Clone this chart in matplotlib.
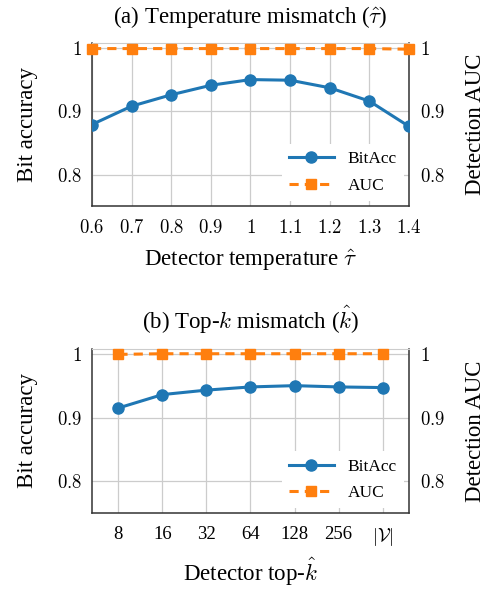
import numpy as np
import matplotlib
matplotlib.use('Agg')
import matplotlib.pyplot as plt

plt.rcParams['font.family'] = ['Liberation Serif', 'DejaVu Serif']
plt.rcParams['mathtext.fontset'] = 'cm'

# (a) temperature mismatch
temps = [0.6, 0.7, 0.8, 0.9, 1.0, 1.1, 1.2, 1.3, 1.4]
temp_labels = ['0.6', '0.7', '0.8', '0.9', '1', '1.1', '1.2', '1.3', '1.4']
temp_bitacc = [0.879, 0.908, 0.926, 0.941, 0.950, 0.949, 0.937, 0.916, 0.876]
temp_auc = [0.999, 0.999, 0.999, 0.999, 0.999, 0.999, 0.999, 0.999, 0.998]

# (b) top-k mismatch
topk_labels = ['8', '16', '32', '64', '128', '256', r'$|\mathcal{V}|$']
topk_bitacc = [0.915, 0.936, 0.943, 0.948, 0.950, 0.948, 0.947]
topk_auc = [0.999, 1.0, 1.0, 1.0, 1.0, 1.0, 1.0]

yticks = [0.8, 0.9, 1.0]
ytick_labels = ['$0.8$', '$0.9$', '$1$']

blue = '#1f77b4'
orange = '#ff7f0e'
FS_TICK = 13.5
FS_LAB = 16.5

fig = plt.figure(figsize=(4.88, 5.89), dpi=100)
ax1 = fig.add_axes([0.1885, 0.650, 0.6496, 0.2772])
ax2 = fig.add_axes([0.1885, 0.1285, 0.6496, 0.2796])


def draw(ax, x, bitacc, auc, xlim, xticks, xlabels, xlabel, title, xpad):
    ax.plot(x, bitacc, color=blue, lw=2.2, marker='o', ms=8, label='BitAcc', zorder=3)
    ax.plot(x, auc, color=orange, lw=2.2, ls=(0, (3, 2)), marker='s', ms=7,
            label='AUC', zorder=4, clip_on=False)
    ax.set_xlim(*xlim)
    ax.set_ylim(0.75, 1.008)
    ax.set_xticks(xticks)
    ax.set_xticklabels(xlabels, fontsize=FS_TICK)
    ax.set_yticks(yticks)
    ax.set_yticklabels(ytick_labels, fontsize=FS_TICK)
    ax.grid(True, color='#cccccc', lw=0.9)
    ax.set_axisbelow(True)
    ax.tick_params(axis='x', length=0, pad=9)
    ax.tick_params(axis='y', length=0, pad=7)
    for s in ['left', 'right', 'bottom']:
        ax.spines[s].set_color('#333333')
        ax.spines[s].set_linewidth(1.1)
    ax.spines['top'].set_color('#cccccc')
    ax.set_ylabel('Bit accuracy', fontsize=FS_LAB, labelpad=14)
    ax.set_xlabel(xlabel, fontsize=FS_LAB, labelpad=xpad)
    ax.set_title(title, fontsize=FS_LAB, pad=14)
    tw = ax.twinx()
    tw.set_ylim(ax.get_ylim())
    tw.set_yticks(yticks)
    tw.set_yticklabels(ytick_labels, fontsize=FS_TICK)
    tw.tick_params(length=0, pad=8)
    for s in tw.spines.values():
        s.set_visible(False)
    tw.set_ylabel('Detection AUC', fontsize=FS_LAB, labelpad=14)
    leg = ax.legend(loc='lower right', frameon=True, fontsize=12.5, handlelength=2.6,
                    borderaxespad=0.3, labelspacing=0.6)
    leg.get_frame().set_edgecolor('none')
    leg.get_frame().set_alpha(1)


draw(ax1, temps, temp_bitacc, temp_auc, (0.6, 1.4), temps,
     ['$' + t + '$' for t in temp_labels], r'Detector temperature $\hat{\tau}$',
     r'(a) Temperature mismatch ($\hat{\tau}$)', 8)

idx = np.arange(len(topk_labels))
draw(ax2, idx, topk_bitacc, topk_auc, (-0.6, 6.6), idx, topk_labels,
     r'Detector top-$\hat{k}$', r'(b) Top-$k$ mismatch ($\hat{k}$)', 6)

fig.savefig('out.png', dpi=100)
